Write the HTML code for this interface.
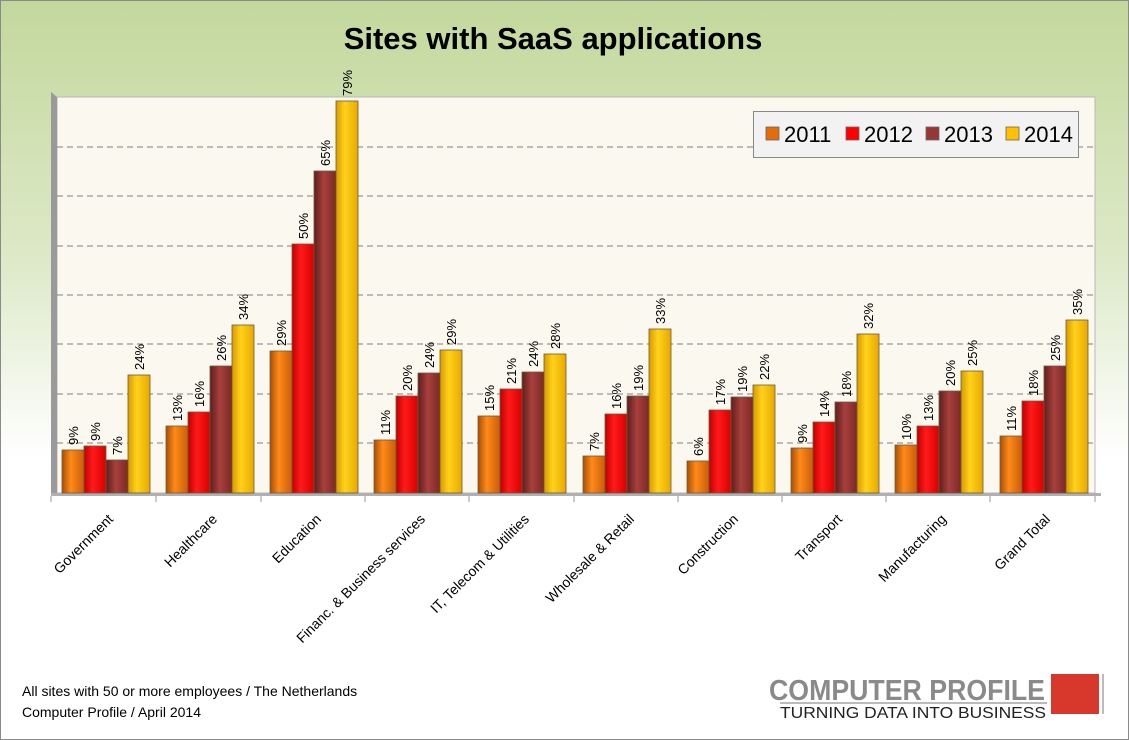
<!DOCTYPE html>
<html><head><meta charset="utf-8"><style>
html,body{margin:0;padding:0;background:#fff}
svg{display:block;font-family:"Liberation Sans",sans-serif}
</style></head><body>
<svg width="1129" height="740" viewBox="0 0 1129 740" xmlns="http://www.w3.org/2000/svg">
<defs>
<linearGradient id="bg" x1="0" y1="0" x2="0" y2="1">
<stop offset="0" stop-color="#c3d89c"/><stop offset="0.35" stop-color="#dde9c8"/><stop offset="0.62" stop-color="#ffffff"/><stop offset="1" stop-color="#ffffff"/>
</linearGradient>
<linearGradient id="g0" x1="0" x2="1"><stop offset="0" stop-color="#a84e05"/><stop offset="0.4" stop-color="#ff8a1a"/><stop offset="1" stop-color="#c85e08"/></linearGradient>
<linearGradient id="g1" x1="0" x2="1"><stop offset="0" stop-color="#c00000"/><stop offset="0.4" stop-color="#ff1a1a"/><stop offset="1" stop-color="#d80000"/></linearGradient>
<linearGradient id="g2" x1="0" x2="1"><stop offset="0" stop-color="#5e1f1d"/><stop offset="0.45" stop-color="#a8403d"/><stop offset="1" stop-color="#7a2a28"/></linearGradient>
<linearGradient id="g3" x1="0" x2="1"><stop offset="0" stop-color="#d89a00"/><stop offset="0.4" stop-color="#ffd21a"/><stop offset="1" stop-color="#e8a800"/></linearGradient>
</defs>
<rect x="0.5" y="0.5" width="1128" height="739" fill="url(#bg)" stroke="#8a8a8a"/>
<text x="553" y="49" font-size="31" font-weight="bold" text-anchor="middle" fill="#000">Sites with SaaS applications</text>
<!-- plot -->
<rect x="57" y="97" width="1038" height="396" fill="#fbf9ef" stroke="#b8b8b8"/>
<polygon points="51,92 57,97 57,495 51,495" fill="#9a9a9a"/>
<rect x="51" y="493" width="1050" height="3" fill="#b0b0b0"/>
<g stroke="#808080" stroke-dasharray="6,4" stroke-width="1">
<line x1="57" y1="147" x2="1095" y2="147"/><line x1="57" y1="196" x2="1095" y2="196"/>
<line x1="57" y1="246" x2="1095" y2="246"/><line x1="57" y1="295" x2="1095" y2="295"/>
<line x1="57" y1="344" x2="1095" y2="344"/><line x1="57" y1="394" x2="1095" y2="394"/>
<line x1="57" y1="443" x2="1095" y2="443"/>
</g>
<g stroke="#999"><line x1="51" y1="496" x2="51" y2="502"/><line x1="156" y1="496" x2="156" y2="502"/><line x1="261" y1="496" x2="261" y2="502"/><line x1="365" y1="496" x2="365" y2="502"/><line x1="469" y1="496" x2="469" y2="502"/><line x1="574" y1="496" x2="574" y2="502"/><line x1="678" y1="496" x2="678" y2="502"/><line x1="782" y1="496" x2="782" y2="502"/><line x1="886" y1="496" x2="886" y2="502"/><line x1="990" y1="496" x2="990" y2="502"/><line x1="1095" y1="496" x2="1095" y2="502"/></g>
<g stroke="#6b5a3a" stroke-width="0.8">
<rect x="62" y="450" width="22" height="43" fill="url(#g0)"/><rect x="84" y="446" width="22" height="47" fill="url(#g1)"/><rect x="106" y="460" width="22" height="33" fill="url(#g2)"/><rect x="128" y="375" width="22" height="118" fill="url(#g3)"/>
<rect x="166" y="426" width="22" height="67" fill="url(#g0)"/><rect x="188" y="412" width="22" height="81" fill="url(#g1)"/><rect x="210" y="366" width="22" height="127" fill="url(#g2)"/><rect x="232" y="325" width="22" height="168" fill="url(#g3)"/>
<rect x="270" y="351" width="22" height="142" fill="url(#g0)"/><rect x="292" y="244" width="22" height="249" fill="url(#g1)"/><rect x="314" y="171" width="22" height="322" fill="url(#g2)"/><rect x="336" y="101" width="22" height="392" fill="url(#g3)"/>
<rect x="374" y="440" width="22" height="53" fill="url(#g0)"/><rect x="396" y="396" width="22" height="97" fill="url(#g1)"/><rect x="418" y="373" width="22" height="120" fill="url(#g2)"/><rect x="440" y="350" width="22" height="143" fill="url(#g3)"/>
<rect x="478" y="416" width="22" height="77" fill="url(#g0)"/><rect x="500" y="389" width="22" height="104" fill="url(#g1)"/><rect x="522" y="372" width="22" height="121" fill="url(#g2)"/><rect x="544" y="354" width="22" height="139" fill="url(#g3)"/>
<rect x="583" y="456" width="22" height="37" fill="url(#g0)"/><rect x="605" y="414" width="22" height="79" fill="url(#g1)"/><rect x="627" y="396" width="22" height="97" fill="url(#g2)"/><rect x="649" y="329" width="22" height="164" fill="url(#g3)"/>
<rect x="687" y="461" width="22" height="32" fill="url(#g0)"/><rect x="709" y="410" width="22" height="83" fill="url(#g1)"/><rect x="731" y="397" width="22" height="96" fill="url(#g2)"/><rect x="753" y="385" width="22" height="108" fill="url(#g3)"/>
<rect x="791" y="448" width="22" height="45" fill="url(#g0)"/><rect x="813" y="422" width="22" height="71" fill="url(#g1)"/><rect x="835" y="402" width="22" height="91" fill="url(#g2)"/><rect x="857" y="334" width="22" height="159" fill="url(#g3)"/>
<rect x="895" y="445" width="22" height="48" fill="url(#g0)"/><rect x="917" y="426" width="22" height="67" fill="url(#g1)"/><rect x="939" y="391" width="22" height="102" fill="url(#g2)"/><rect x="961" y="371" width="22" height="122" fill="url(#g3)"/>
<rect x="1000" y="436" width="22" height="57" fill="url(#g0)"/><rect x="1022" y="401" width="22" height="92" fill="url(#g1)"/><rect x="1044" y="366" width="22" height="127" fill="url(#g2)"/><rect x="1066" y="320" width="22" height="173" fill="url(#g3)"/>
</g>
<g font-size="13" fill="#000">
<text transform="translate(78,445) rotate(-90)">9%</text><text transform="translate(100,441) rotate(-90)">9%</text><text transform="translate(122,455) rotate(-90)">7%</text><text transform="translate(144,370) rotate(-90)">24%</text>
<text transform="translate(182,421) rotate(-90)">13%</text><text transform="translate(204,407) rotate(-90)">16%</text><text transform="translate(226,361) rotate(-90)">26%</text><text transform="translate(248,320) rotate(-90)">34%</text>
<text transform="translate(286,346) rotate(-90)">29%</text><text transform="translate(308,239) rotate(-90)">50%</text><text transform="translate(330,166) rotate(-90)">65%</text><text transform="translate(352,96) rotate(-90)">79%</text>
<text transform="translate(390,435) rotate(-90)">11%</text><text transform="translate(412,391) rotate(-90)">20%</text><text transform="translate(434,368) rotate(-90)">24%</text><text transform="translate(456,345) rotate(-90)">29%</text>
<text transform="translate(494,411) rotate(-90)">15%</text><text transform="translate(516,384) rotate(-90)">21%</text><text transform="translate(538,367) rotate(-90)">24%</text><text transform="translate(560,349) rotate(-90)">28%</text>
<text transform="translate(599,451) rotate(-90)">7%</text><text transform="translate(621,409) rotate(-90)">16%</text><text transform="translate(643,391) rotate(-90)">19%</text><text transform="translate(665,324) rotate(-90)">33%</text>
<text transform="translate(703,456) rotate(-90)">6%</text><text transform="translate(725,405) rotate(-90)">17%</text><text transform="translate(747,392) rotate(-90)">19%</text><text transform="translate(769,380) rotate(-90)">22%</text>
<text transform="translate(807,443) rotate(-90)">9%</text><text transform="translate(829,417) rotate(-90)">14%</text><text transform="translate(851,397) rotate(-90)">18%</text><text transform="translate(873,329) rotate(-90)">32%</text>
<text transform="translate(911,440) rotate(-90)">10%</text><text transform="translate(933,421) rotate(-90)">13%</text><text transform="translate(955,386) rotate(-90)">20%</text><text transform="translate(977,366) rotate(-90)">25%</text>
<text transform="translate(1016,431) rotate(-90)">11%</text><text transform="translate(1038,396) rotate(-90)">18%</text><text transform="translate(1060,361) rotate(-90)">25%</text><text transform="translate(1082,315) rotate(-90)">35%</text>
</g>
<g font-size="14" fill="#000" text-anchor="end">
<text transform="translate(114,520) rotate(-45)">Government</text>
<text transform="translate(218,520) rotate(-45)">Healthcare</text>
<text transform="translate(322,520) rotate(-45)">Education</text>
<text transform="translate(426,520) rotate(-45)">Financ. &amp; Business services</text>
<text transform="translate(530,520) rotate(-45)">IT, Telecom &amp; Utilities</text>
<text transform="translate(635,520) rotate(-45)">Wholesale &amp; Retail</text>
<text transform="translate(739,520) rotate(-45)">Construction</text>
<text transform="translate(843,520) rotate(-45)">Transport</text>
<text transform="translate(947,520) rotate(-45)">Manufacturing</text>
<text transform="translate(1051,520) rotate(-45)">Grand Total</text>
</g>
<!-- legend -->
<rect x="753.5" y="111.5" width="325" height="46" fill="#f2f2f2" stroke="#888"/>
<g stroke="#666" stroke-width="0.8">
<rect x="766" y="127" width="13" height="13" fill="#e46c0a"/>
<rect x="846" y="127" width="13" height="13" fill="#ff0000"/>
<rect x="926" y="127" width="13" height="13" fill="#953735"/>
<rect x="1006" y="127" width="13" height="13" fill="#ffc000"/>
</g>
<g font-size="22" fill="#000">
<text x="784" y="142">2011</text><text x="864" y="142">2012</text><text x="944" y="142">2013</text><text x="1024" y="142">2014</text>
</g>
<!-- footer -->
<text x="22" y="696" font-size="14" fill="#000">All sites with 50 or more employees / The Netherlands</text>
<text x="22" y="717" font-size="14" fill="#000">Computer Profile / April 2014</text>
<text x="769" y="700" font-size="29" font-weight="bold" fill="#8a8a8a" textLength="276" lengthAdjust="spacingAndGlyphs">COMPUTER PROFILE</text>
<line x1="780" y1="703" x2="1047" y2="703" stroke="#777" stroke-width="1"/>
<text x="780" y="718" font-size="16" fill="#222" textLength="266" lengthAdjust="spacingAndGlyphs">TURNING DATA INTO BUSINESS</text>
<rect x="1051" y="674" width="48" height="40" fill="#d8372b"/>
<line x1="1103" y1="674" x2="1103" y2="714" stroke="#777"/>
</svg>
</body></html>
